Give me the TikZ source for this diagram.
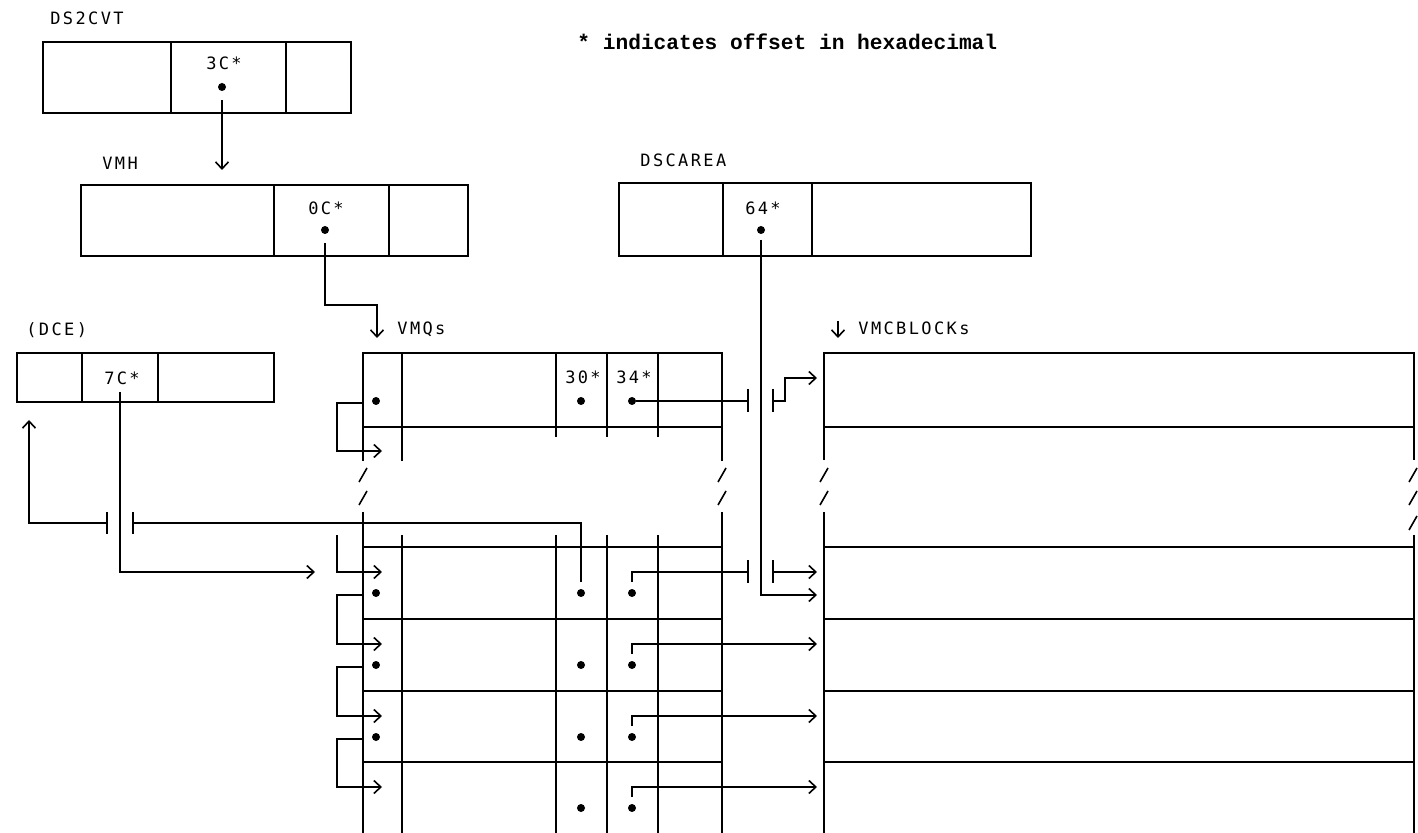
\documentclass[tikz,border=0pt]{standalone}
\usepackage{fontspec}
\newfontfamily\plotfont[LetterSpace=14]{DejaVu Sans Mono}
\newfontfamily\notefont{Liberation Mono}
\usetikzlibrary{arrows.meta}
\tikzset{
  recline/.style = {
    line width=1pt
  },
  ptrline/.style = {
    line width=0.8pt
  },
  ptrarrow/.style = {
    ptrline,
    -{Straight Barb[length=3.5pt,width=6.5pt]}
  },
  ptrdot/.style = {
    circle,
    fill,
    inner sep=0pt,
    minimum size=4pt
  },
  fieldlabel/.style = {
    font=\plotfont\fontsize{8.5}{10}\selectfont,
    inner sep=0pt
  },
  namelabel/.style = {
    fieldlabel,
    anchor=west
  },
  breakbar/.style = {
    line width=0.8pt
  },
  brkslash/.style = {
    line width=0.8pt
  }
}

\begin{document}
\begin{tikzpicture}[x=0.5pt, y=-0.5pt]
  \useasboundingbox (0,0) rectangle (1418,833);

  % note
  \node[anchor=west, inner sep=0pt, font=\notefont\bfseries\fontsize{10.6}{12}\selectfont] (note) at (577,42) {* indicates offset in hexadecimal};

  % DS2CVT
  \node[namelabel] (ds2cvtname) at (50,18) {DS2CVT};
  \draw[recline] (43,42) rectangle (351,113) (171,42) -- (171,113) (286,42) -- (286,113);
  \node[fieldlabel] (f3c) at (224,63) {3C*};
  \node[ptrdot] (p3c) at (222,87) {};

  % VMH
  \node[namelabel] (vmhname) at (102,163) {VMH};
  \draw[recline] (81,185) rectangle (468,256) (274,185) -- (274,256) (389,185) -- (389,256);
  \node[fieldlabel] (f0c) at (326,208) {0C*};
  \node[ptrdot] (p0c) at (325,230) {};
  \coordinate (vmhin) at (222,170);
  \draw[ptrarrow] (p3c) ++(0,13) -- (vmhin);

  % DSCAREA
  \node[namelabel] (dscname) at (640,160) {DSCAREA};
  \draw[recline] (619,183) rectangle (1031,256) (723,183) -- (723,256) (812,183) -- (812,256);
  \node[fieldlabel] (f64) at (763,208) {64*};
  \node[ptrdot] (p64) at (761,230) {};

  % DCE
  \node[namelabel] (dcename) at (26,330) {(DCE)};
  \draw[recline] (17,353) rectangle (274,402) (82,353) -- (82,402) (158,353) -- (158,402);
  \node[fieldlabel] (f7c) at (122,378) {7C*};
  \coordinate (dcein) at (29,420);

  % VMQs
  \node[namelabel] (vmqname) at (397,329) {VMQs};
  \coordinate (vmqin) at (377,338);
  \draw[ptrarrow] (p0c) ++(0,13) -- ++(0,62) -| (vmqin);
  \draw[recline] (363,461) -- (363,353) -- (722,353) -- (722,461);
  \draw[recline] (363,427) -- (722,427);
  \draw[recline] (402,353) -- (402,461);
  \foreach \x in {556,607,658} \draw[recline] (\x,353) -- (\x,437);
  \node[fieldlabel] (f30) at (583,377) {30*};
  \node[fieldlabel] (f34) at (634,377) {34*};
  \node[ptrdot] (qn0) at (376,401) {};
  \node[ptrdot] (qa0) at (581,401) {};
  \node[ptrdot] (qb0) at (632,401) {};
  \coordinate (qin0) at (382,451);
  \coordinate (cin0) at (817,378);

  \draw[recline] (363,512) -- (363,833) (722,512) -- (722,833);
  \foreach \x in {402,556,607,658} \draw[recline] (\x,535) -- (\x,833);
  \foreach \y in {547,619,691,762} \draw[recline] (363,\y) -- (722,\y);

  % VMCBLOCKs
  \node[namelabel] (vmcname) at (858,328) {VMCBLOCKs};
  \coordinate (vmcin) at (838,338);
  \draw[ptrarrow] (vmcin) ++(0,-17) -- (vmcin);
  \draw[recline] (824,460) -- (824,353) -- (1414,353) -- (1414,460);
  \draw[recline] (824,427) -- (1414,427);
  \draw[recline] (824,512) -- (824,833) (1414,535) -- (1414,833);
  \foreach \y in {547,619,691,762} \draw[recline] (824,\y) -- (1414,\y);

  % breaks
  \foreach \x in {363,722,824}
    \foreach \y in {475,498}
      \draw[brkslash] (\x-4,\y+7) -- (\x+4,\y-7);
  \foreach \y in {475,498,523}
    \draw[brkslash] (1409,\y+7) -- (1417,\y-7);

  % lower queue entries
  \foreach \i/\t in {1/547,2/619,3/691,4/762} {
    \node[ptrdot] (qa\i) at (581,\t+46) {};
    \node[ptrdot] (qb\i) at (632,\t+46) {};
    \coordinate (qin\i) at (382,\t+25);
    \coordinate (cin\i) at (817,\t+25);
  }
  \foreach \i/\t in {1/547,2/619,3/691}
    \node[ptrdot] (qn\i) at (376,\t+46) {};

  % queue chain
  \draw[ptrarrow] (qn0) ++(-13,2) -- ++(-26,0) |- (qin0);
  \coordinate (qbrk) at (337,535);
  \draw[ptrarrow] (qbrk) |- (qin1);
  \foreach \i/\j in {1/2,2/3,3/4}
    \draw[ptrarrow] (qn\i) ++(-13,2) -- ++(-26,0) |- (qin\j);

  % 34* pointers
  \coordinate (bar0a) at (748,401);
  \coordinate (bar0b) at (773,401);
  \draw[ptrline] (qb0) -- (bar0a);
  \draw[breakbar] (bar0a) ++(0,-12) -- ++(0,23);
  \draw[breakbar] (bar0b) ++(0,-12) -- ++(0,23);
  \draw[ptrarrow] (bar0b) -- ++(12,0) |- (cin0);

  \coordinate (bar1a) at (748,572);
  \coordinate (bar1b) at (773,572);
  \draw[ptrline] (qb1) ++(0,-11) |- (bar1a);
  \draw[breakbar] (bar1a) ++(0,-12) -- ++(0,23);
  \draw[breakbar] (bar1b) ++(0,-12) -- ++(0,23);
  \draw[ptrarrow] (bar1b) -- (cin1);
  \foreach \i in {2,3,4}
    \draw[ptrarrow] (qb\i) ++(0,-11) |- (cin\i);

  % 64* pointer
  \coordinate (cdsc) at (817,595);
  \draw[ptrarrow] (p64) ++(0,10) |- (cdsc);

  % 7C* pointer
  \coordinate (qdce) at (315,572);
  \draw[ptrarrow] (f7c) ++(-2,14) |- (qdce);

  % 30* back to DCE
  \coordinate (bar2a) at (133,523);
  \coordinate (bar2b) at (107,523);
  \draw[ptrline] (qa1) ++(0,-11) |- (bar2a);
  \draw[breakbar] (bar2a) ++(0,-11) -- ++(0,22);
  \draw[breakbar] (bar2b) ++(0,-11) -- ++(0,22);
  \draw[ptrarrow] (bar2b) -| (dcein);
\end{tikzpicture}
\end{document}
